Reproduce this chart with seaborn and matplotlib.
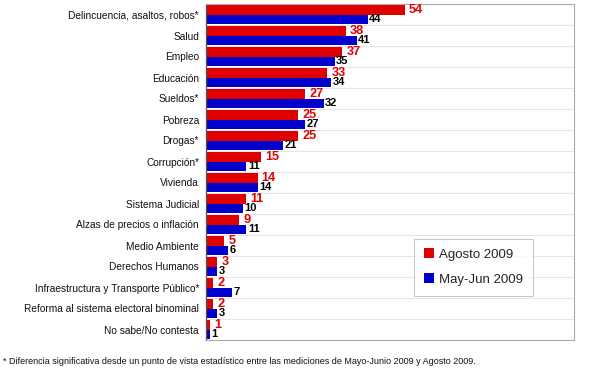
import matplotlib
matplotlib.use("Agg")
import matplotlib.pyplot as plt
import seaborn as sns
import pandas as pd
from matplotlib.ticker import FixedLocator

categories = [
    "Delincuencia, asaltos, robos*", "Salud", "Empleo", "Educación", "Sueldos*",
    "Pobreza", "Drogas*", "Corrupción*", "Vivienda", "Sistema Judicial",
    "Alzas de precios o inflación", "Medio Ambiente", "Derechos Humanos",
    "Infraestructura y Transporte Público*", "Reforma al sistema electoral binominal",
    "No sabe/No contesta",
]
agosto_2009 = [54, 38, 37, 33, 27, 25, 25, 15, 14, 11, 9, 5, 3, 2, 2, 1]
mayjun_2009 = [44, 41, 35, 34, 32, 27, 21, 11, 14, 10, 11, 6, 3, 7, 3, 1]
series_names = ["Agosto 2009", "May-Jun 2009"]
footnote = ("* Diferencia significativa desde un punto de vista estadístico entre las "
            "mediciones de Mayo-Junio 2009 y Agosto 2009.")

sns.set_style("white")
plt.rcParams["font.family"] = ["Liberation Sans", "DejaVu Sans"]

df = pd.DataFrame({
    "Categoria": categories * 2,
    "Valor": agosto_2009 + mayjun_2009,
    "Serie": [series_names[0]] * len(categories) + [series_names[1]] * len(categories),
})

fig = plt.figure(figsize=(6.0, 3.69), dpi=100)
ax = fig.add_axes([206 / 600, 1 - 340 / 369, 368 / 600, 336 / 369])

red = "#E00000"
blue = "#0000CC"
sns.barplot(data=df, y="Categoria", x="Valor", hue="Serie", orient="h",
            palette=[red, blue], width=0.86, saturation=1, ax=ax, linewidth=0)

ax.set_xlim(0, 100)
ax.set_ylim(len(categories) - 0.5, -0.5)
ax.set_xlabel("")
ax.set_ylabel("")
ax.set_xticks([])

ax.tick_params(axis="y", which="major", length=0, labelsize=7.3, pad=5, labelcolor="#111111")
ax.yaxis.set_minor_locator(FixedLocator([i + 0.5 for i in range(-1, len(categories))]))
ax.tick_params(axis="y", which="minor", length=3, width=0.8, color="#555555", direction="out")
ax.grid(axis="y", which="minor", color="#E6E6E6", linewidth=0.8)
ax.set_axisbelow(True)

for side in ["top", "right", "bottom"]:
    ax.spines[side].set_color("#AAAAAA")
    ax.spines[side].set_linewidth(0.8)
ax.spines["left"].set_color("#555555")
ax.spines["left"].set_linewidth(0.9)

containers = ax.containers
ax.bar_label(containers[0], labels=[str(v) for v in agosto_2009], padding=3,
             color=red, fontsize=9.2, fontweight="bold")
ax.bar_label(containers[1], labels=[str(v) for v in mayjun_2009], padding=1,
             color="black", fontsize=8, fontweight="bold")

leg = ax.legend(loc="upper left", bbox_to_anchor=(0.566, 0.302), frameon=True,
                fancybox=False, edgecolor="#BBBBBB", fontsize=9.5,
                handlelength=0.75, handleheight=0.75, handletextpad=0.4,
                labelspacing=0.95, borderpad=0.75, borderaxespad=0)
leg.get_frame().set_linewidth(0.8)

fig.text(3 / 600, 1 - 362 / 369, footnote, fontsize=6.5, va="center", ha="left",
         color="#111111")

fig.savefig("out.png", dpi=100)
